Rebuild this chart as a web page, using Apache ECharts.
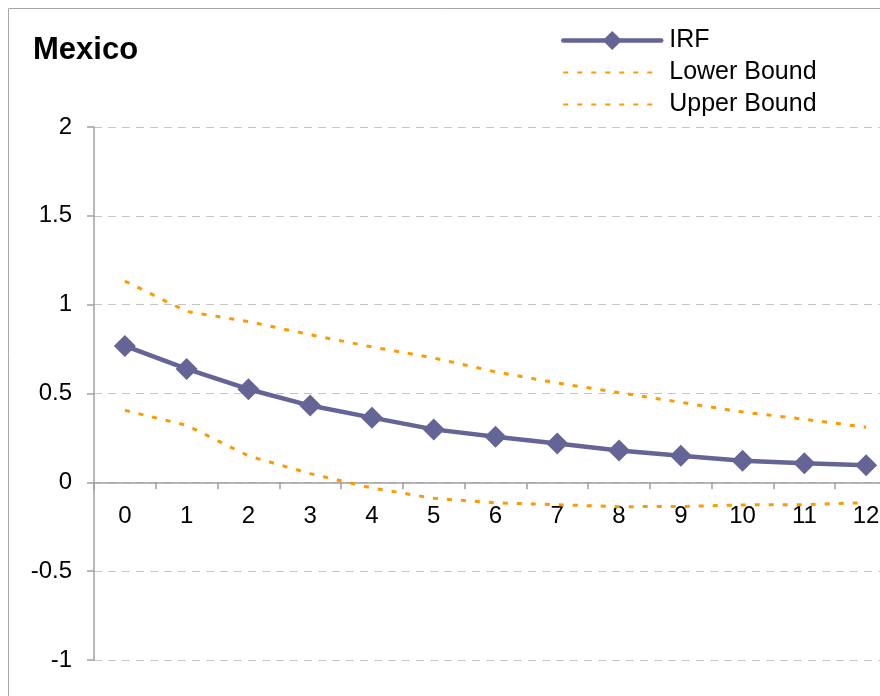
<!DOCTYPE html>
<html>
<head>
<meta charset="utf-8">
<script src="https://cdn.jsdelivr.net/npm/echarts@6/dist/echarts.min.js"></script>
<style>html,body{margin:0;padding:0;background:#fff;}#c{width:880px;height:696px;}</style>
</head>
<body>
<div id="c"></div>
<script>
var categories = ['0','1','2','3','4','5','6','7','8','9','10','11','12'];
var irf = [0.768, 0.638, 0.524, 0.432, 0.364, 0.298, 0.256, 0.218, 0.179, 0.149, 0.122, 0.108, 0.096];
var lowerBound = [0.405, 0.321, 0.149, 0.049, -0.032, -0.090, -0.115, -0.126, -0.137, -0.136, -0.127, -0.126, -0.114];
var upperBound = [1.133, 0.962, 0.905, 0.831, 0.762, 0.700, 0.622, 0.559, 0.505, 0.450, 0.396, 0.355, 0.310];
var yTicks = { min: -1, max: 2, interval: 0.5 };

var FONT = 'Liberation Sans';
var GRID_TOP = 127, GRID_H = 533;
// x axis sits at value 0: shift it up from the grid bottom
var zeroOffset = -GRID_H * (0 - yTicks.min) / (yTicks.max - yTicks.min);

var chart = echarts.init(document.getElementById('c'), null, { renderer: 'canvas' });
chart.setOption({
  animation: false,
  backgroundColor: '#ffffff',
  title: {
    text: 'Mexico', left: 28, top: 30,
    textStyle: { fontFamily: FONT, fontSize: 31, fontWeight: 'bold', color: '#000' }
  },
  graphic: [{
    type: 'rect', silent: true, z: -1,
    shape: { x: 8.5, y: 8.5, width: 900, height: 700 },
    style: { fill: 'none', stroke: '#a6a6a6', lineWidth: 1 }
  }],
  legend: {
    orient: 'vertical', left: 556, top: 23,
    itemWidth: 98, itemHeight: 24, itemGap: 7,
    textStyle: { fontFamily: FONT, fontSize: 25, color: '#000', padding: [0, 0, 0, 3] },
    data: [
      { name: 'IRF', lineStyle: { width: 4.5, cap: 'round' } },
      { name: 'Lower Bound', itemStyle: { opacity: 0 } },
      { name: 'Upper Bound', itemStyle: { opacity: 0 } }
    ]
  },
  grid: { left: 94, top: GRID_TOP, width: 803, height: GRID_H, outerBoundsMode: 'none', containLabel: false },
  xAxis: {
    type: 'category', data: categories, boundaryGap: true,
    position: 'bottom', offset: zeroOffset,
    axisLine: { show: true, onZero: false, lineStyle: { color: '#a0a0a0', width: 1.5 } },
    axisTick: { show: true, length: 7, lineStyle: { color: '#a0a0a0', width: 1.5 } },
    axisLabel: { margin: 22, fontFamily: FONT, fontSize: 24, color: '#000' },
    splitLine: { show: false }
  },
  yAxis: {
    type: 'value', min: yTicks.min, max: yTicks.max, interval: yTicks.interval,
    axisLine: { show: true, lineStyle: { color: '#a0a0a0', width: 1.5 } },
    axisTick: { show: true, length: 7, lineStyle: { color: '#a0a0a0', width: 1.5 } },
    axisLabel: { margin: 22, fontFamily: FONT, fontSize: 24, color: '#000' },
    splitLine: { show: true, lineStyle: { color: '#c4c4c4', type: [8, 6], width: 1 } }
  },
  series: [
    {
      name: 'Lower Bound', type: 'line', data: lowerBound, symbol: 'none',
      lineStyle: { color: '#ff9900', width: 3, type: [5, 9] },
      itemStyle: { color: '#ff9900' }, z: 2
    },
    {
      name: 'Upper Bound', type: 'line', data: upperBound, symbol: 'none',
      lineStyle: { color: '#ff9900', width: 3, type: [5, 9] },
      itemStyle: { color: '#ff9900' }, z: 2
    },
    {
      name: 'IRF', type: 'line', data: irf, symbol: 'diamond', symbolSize: 22,
      lineStyle: { color: '#646496', width: 4.5 },
      itemStyle: { color: '#646496' }, z: 3
    }
  ]
});
</script>
</body>
</html>
